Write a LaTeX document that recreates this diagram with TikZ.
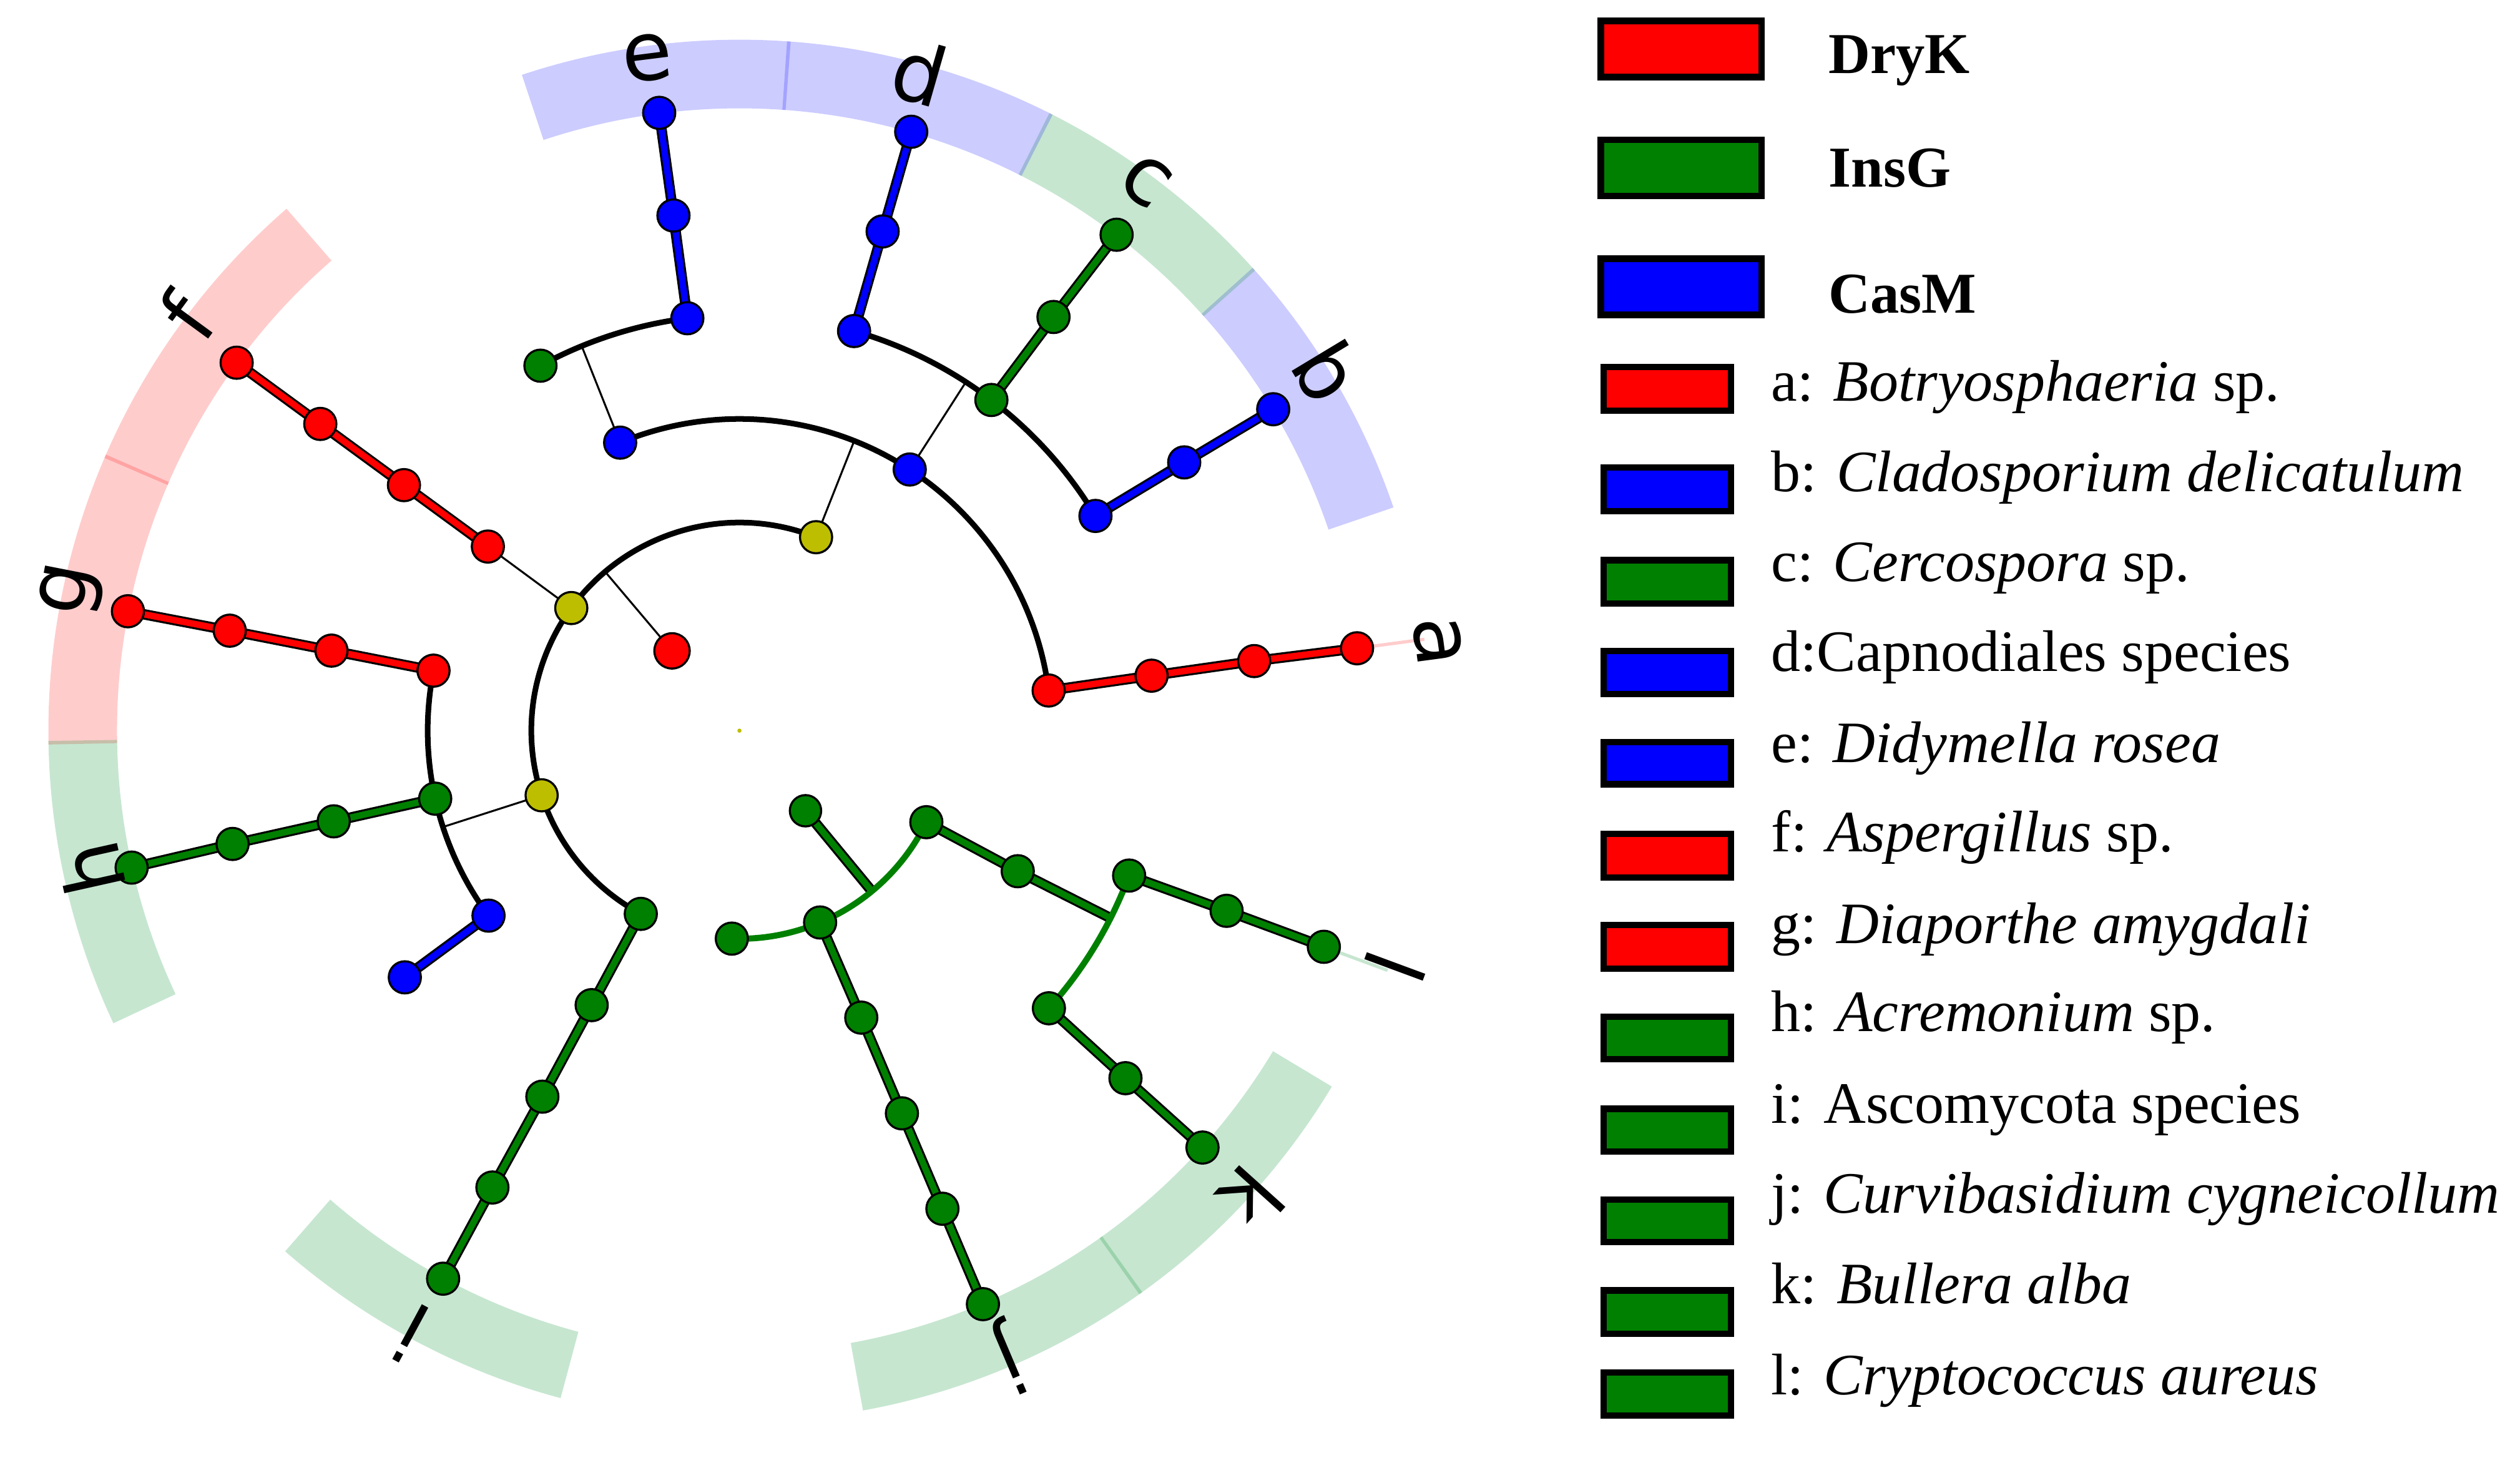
\documentclass[tikz,border=0pt]{standalone}
\usepackage{fontspec}
\setmainfont{Liberation Serif}
\newfontfamily\lblfont{DejaVu Sans}
\definecolor{cR}{RGB}{255,0,0}
\definecolor{cG}{RGB}{0,128,0}
\definecolor{cB}{RGB}{0,0,255}
\definecolor{cY}{RGB}{190,190,0}
\definecolor{bandG}{RGB}{10,145,50}
\definecolor{bR}{RGB}{255,204,204}
\definecolor{bG}{RGB}{199,230,208}
\newcommand\bandsec[4]{\fill[fill=#3, fill opacity=#4] (#1:387.3) arc[start angle=#1, end angle=#2, radius=387.3] -- (#2:430) arc[start angle=#2, end angle=#1, radius=430] -- cycle;}
\begin{document}
\begin{tikzpicture}[x=1pt,y=1pt,
  nd/.style={circle, draw=black, line width=1.3pt, minimum size=20pt, inner sep=0pt, fill=#1},
  thinln/.style={draw=black, line width=1.2pt},
  thk/.style={draw=black, line width=1.25pt, double=#1, double distance=4pt, line join=round},
  blackarc/.style={draw=black, line width=3.5pt},
  greenarc/.style={draw=cG, line width=3.8pt},
  faint/.style={draw=#1, line width=2pt},
  lbl/.style={font=\lblfont\fontsize{51}{51}\selectfont, inner sep=0pt},
  lgtxt/.style={anchor=base west, inner sep=0pt, font=\fontsize{36.5}{40}\selectfont},
  lgbold/.style={anchor=base west, inner sep=0pt, font=\fontsize{36}{40}\selectfont\bfseries},
  lgbox/.style={draw=black, line width=4pt, fill=#1}
]
\useasboundingbox (0,0) rectangle (1568,907);

\begin{scope}[shift={(460.1,452.3)}]
% background bands
\bandsec{18.85}{42.05}{cB}{0.2}
\bandsec{41.75}{63.35}{bandG}{0.23}
\bandsec{63.05}{86.05}{cB}{0.2}
\bandsec{85.75}{108.35}{cB}{0.2}
\bandsec{130.95}{156.75}{cR}{0.2}
\bandsec{156.45}{181.15}{cR}{0.2}
\bandsec{180.85}{205.05}{bandG}{0.23}
\bandsec{228.9}{255.0}{bandG}{0.23}
\bandsec{280.3}{305.65}{bandG}{0.23}
\bandsec{305.35}{329.0}{bandG}{0.23}

% coordinates
\coordinate (K) at (0,0);
\coordinate (P1) at (130.2:65);
\coordinate (P2) at (309.5:64.6);
\coordinate (C1) at (68.4:129.5);
\coordinate (C2) at (143.9:129.5);
\coordinate (C3) at (198.1:129.5);
\coordinate (Ci) at (241.7:129.5);
\coordinate (Cx) at (267.9:129.5);
\coordinate (Cj) at (292.8:129.5);
\coordinate (Ckl) at (333.9:129.5);
\coordinate (Oe) at (112.5:194);
\coordinate (Od) at (56.9:194);
\coordinate (Oa) at (7.4:194);
\coordinate (Of) at (143.8:194);
\coordinate (Og) at (168.9:194);
\coordinate (Oh) at (192.6:194);
\coordinate (Oq) at (216.4:194);
\coordinate (Oi) at (241.7:194);
\coordinate (Oj) at (293:194);
\coordinate (Okl) at (333.2:194);
\coordinate (Fx) at (118.6:258.7);
\coordinate (Fe) at (97.2:258.7);
\coordinate (Fd) at (74:258.7);
\coordinate (Fc) at (52.7:258.7);
\coordinate (Fb) at (31.1:258.7);
\coordinate (Fa) at (7.6:258.7);
\coordinate (Ff) at (143.8:258.7);
\coordinate (Fg) at (168.9:258.7);
\coordinate (Fh) at (192.6:258.7);
\coordinate (Fq) at (216.4:258.7);
\coordinate (Fi) at (241.7:258.7);
\coordinate (Fj) at (293:258.7);
\coordinate (Fl) at (339.6:258.7);
\coordinate (Fk) at (318.1:258.7);
\coordinate (Ge) at (97.3:323.2);
\coordinate (Gd) at (74:323.2);
\coordinate (Gc) at (52.8:323.2);
\coordinate (Gb) at (31.1:323.2);
\coordinate (Ga) at (7.7:323.2);
\coordinate (Gf) at (143.8:323.2);
\coordinate (Gg) at (168.9:323.2);
\coordinate (Gh) at (192.6:323.2);
\coordinate (Gi) at (241.6:323.2);
\coordinate (Gj) at (293:323.2);
\coordinate (Gk) at (318:323.2);
\coordinate (Gl) at (339.7:323.2);
\coordinate (Se) at (97.4:387.7);
\coordinate (Sd) at (74:387.7);
\coordinate (Sc) at (52.75:387.7);
\coordinate (Sb) at (31.06:387.7);
\coordinate (Sa) at (7.6:387.7);
\coordinate (Sf) at (143.8:387.7);
\coordinate (Sg) at (168.95:387.7);
\coordinate (Sh) at (192.7:387.7);
\coordinate (Si) at (241.6:387.7);
\coordinate (Sj) at (293:387.7);
\coordinate (Sk) at (318:387.7);
\coordinate (Sl) at (339.7:387.7);
% arc junctions
\coordinate (A1) at (130.2:129.5);
\coordinate (A2) at (68.4:194);
\coordinate (A3) at (198:194);
\coordinate (A4) at (57:258.7);
\coordinate (A5) at (112.3:258.7);
\coordinate (A6) at (309.5:129.5);
\coordinate (A7) at (333.2:258.7);
\coordinate (Ea) at (7.6:430);
\coordinate (El) at (339.7:430);

% faint lines to labels
\draw[faint=bR] (Sa) -- (Ea);
\draw[faint=bG] (Sl) -- (El);

% thin connectors
\draw[thinln] (P1) -- (A1);
\draw[thinln] (C1) -- (A2);
\draw[thinln] (C2) -- (Of);
\draw[thinln] (C3) -- (A3);
\draw[thinln] (Od) -- (A4);
\draw[thinln] (Oe) -- (A5);

% arcs
\draw[blackarc] (C1) arc[start angle=68.4, end angle=241.7, radius=129.5];
\draw[blackarc] (Oa) arc[start angle=7.4, end angle=112.5, radius=194];
\draw[blackarc] (Og) arc[start angle=168.9, end angle=216.4, radius=194];
\draw[blackarc] (Fb) arc[start angle=31.1, end angle=74, radius=258.7];
\draw[blackarc] (Fe) arc[start angle=97.2, end angle=118.6, radius=258.7];

% thick coloured branches
\draw[thk=cR] (Oa) -- (Fa) -- (Ga) -- (Sa);
\draw[thk=cR] (Of) -- (Ff) -- (Gf) -- (Sf);
\draw[thk=cR] (Og) -- (Fg) -- (Gg) -- (Sg);
\draw[thk=cB] (Fb) -- (Gb) -- (Sb);
\draw[thk=cB] (Fd) -- (Gd) -- (Sd);
\draw[thk=cB] (Fe) -- (Ge) -- (Se);
\draw[thk=cB] (Oq) -- (Fq);
\draw[thk=cG] (Fc) -- (Gc) -- (Sc);
\draw[thk=cG] (Oh) -- (Fh) -- (Gh) -- (Sh);
\draw[thk=cG] (Ci) -- (Oi) -- (Fi) -- (Gi) -- (Si);
\draw[thk=cG] (P2) -- (A6);
\draw[thk=cG] (Cj) -- (Oj) -- (Fj) -- (Gj) -- (Sj);
\draw[thk=cG] (Ckl) -- (Okl) -- (A7);
\draw[thk=cG] (Fk) -- (Gk) -- (Sk);
\draw[thk=cG] (Fl) -- (Gl) -- (Sl);

\draw[greenarc] (Cx) arc[start angle=267.9, end angle=333.9, radius=129.5];
\draw[greenarc] (Fk) arc[start angle=318.1, end angle=339.6, radius=258.7];

% nodes
\fill[cY] (K) circle[radius=1.3];
\node[nd=cR, minimum size=22pt] (nP1) at (P1) {};
\node[nd=cG, minimum size=19.5pt] (nP2) at (P2) {};
\foreach \n in {C1,C2,C3} {\node[nd=cY] at (\n) {};}
\foreach \n in {Ci,Cx,Cj,Ckl,Oi,Oj,Okl,Oh,Fx,Fc,Fh,Fi,Fj,Fk,Fl,Gc,Gh,Gi,Gj,Gk,Gl,Sc,Sh,Si,Sj,Sk,Sl} {\node[nd=cG] at (\n) {};}
\foreach \n in {Oe,Od,Oq,Fe,Fd,Fb,Fq,Ge,Gd,Gb,Se,Sd,Sb} {\node[nd=cB] at (\n) {};}
\foreach \n in {Oa,Of,Og,Fa,Ff,Fg,Ga,Gf,Gg,Sa,Sf,Sg} {\node[nd=cR] at (\n) {};}

% labels
\node[lbl, rotate=-82.4] (La) at (7.3:438) {a};
\node[lbl, rotate=-58.9] (Lb) at (31.4:429) {b};
\node[lbl, rotate=-37.3] (Lc) at (53.5:425.5) {c};
\node[lbl, rotate=-16] (Ld) at (74.7:424.6) {d};
\node[lbl, rotate=7.2] (Le) at (97.8:422.7) {e};
\node[lbl, rotate=53.8] (Lf) at (143.1:430) {f};
\node[lbl, rotate=78.9] (Lg) at (168.1:424.6) {g};
\node[lbl, rotate=102.6] (Lh) at (192:412.7) {h};
\node[lbl, rotate=151.7] (Li) at (241.4:427.4) {i};
\node[lbl, rotate=203] (Lj) at (293.2:424) {j};
\node[lbl, rotate=228] (Lk) at (317.6:431.8) {k};
\node[lbl, rotate=249.7] (Ll) at (340.2:433.5) {l};
\end{scope}

% legend
\draw[lgbox=cR] (996,894) rectangle (1096,859);
\draw[lgbox=cG] (996,820) rectangle (1096,785);
\draw[lgbox=cB] (996,746) rectangle (1096,711);
\node[lgbold] (tDry) at (1137.6,861.5) {DryK};
\node[lgbold] (tIns) at (1137.6,790.5) {InsG};
\node[lgbold] (tCas) at (1137.6,712.3) {CasM};

\draw[lgbox=cR] (997.7,678.5) rectangle (1077,651.5);
\draw[lgbox=cB] (997.7,616) rectangle (1077,589);
\draw[lgbox=cG] (997.7,558.4) rectangle (1077,531.5);
\draw[lgbox=cB] (997.7,502) rectangle (1077,475);
\draw[lgbox=cB] (997.7,445.1) rectangle (1077,419);
\draw[lgbox=cR] (997.7,388) rectangle (1077,361);
\draw[lgbox=cR] (997.7,331.3) rectangle (1077,304.3);
\draw[lgbox=cG] (997.7,274.3) rectangle (1077,248);
\draw[lgbox=cG] (997.7,217) rectangle (1077,190.5);
\draw[lgbox=cG] (997.7,160.4) rectangle (1077,134);
\draw[lgbox=cG] (997.7,104) rectangle (1077,77);
\draw[lgbox=cG] (997.7,53) rectangle (1077,26);

\node[lgtxt] (ta) at (1102,657.3) {a: \textit{Botryosphaeria} sp.};
\node[lgtxt] (tb) at (1102,601) {b: \textit{Cladosporium delicatulum}};
\node[lgtxt] (tc) at (1102,545) {c: \textit{Cercospora} sp.};
\node[lgtxt] (td) at (1102,489.4) {d:Capnodiales species};
\node[lgtxt] (te) at (1102,432.5) {e: \textit{Didymella rosea}};
\node[lgtxt] (tf) at (1102,377) {f: \textit{Aspergillus} sp.};
\node[lgtxt] (tg) at (1102,320) {g: \textit{Diaporthe amygdali}};
\node[lgtxt] (th) at (1102,265.1) {h: \textit{Acremonium} sp.};
\node[lgtxt] (ti) at (1102,208) {i: Ascomycota species};
\node[lgtxt] (tj) at (1102,152.2) {j: \textit{Curvibasidium cygneicollum}};
\node[lgtxt] (tk) at (1102,96) {k: \textit{Bullera alba}};
\node[lgtxt] (tl) at (1102,39.1) {l: \textit{Cryptococcus aureus}};
\end{tikzpicture}
\end{document}
